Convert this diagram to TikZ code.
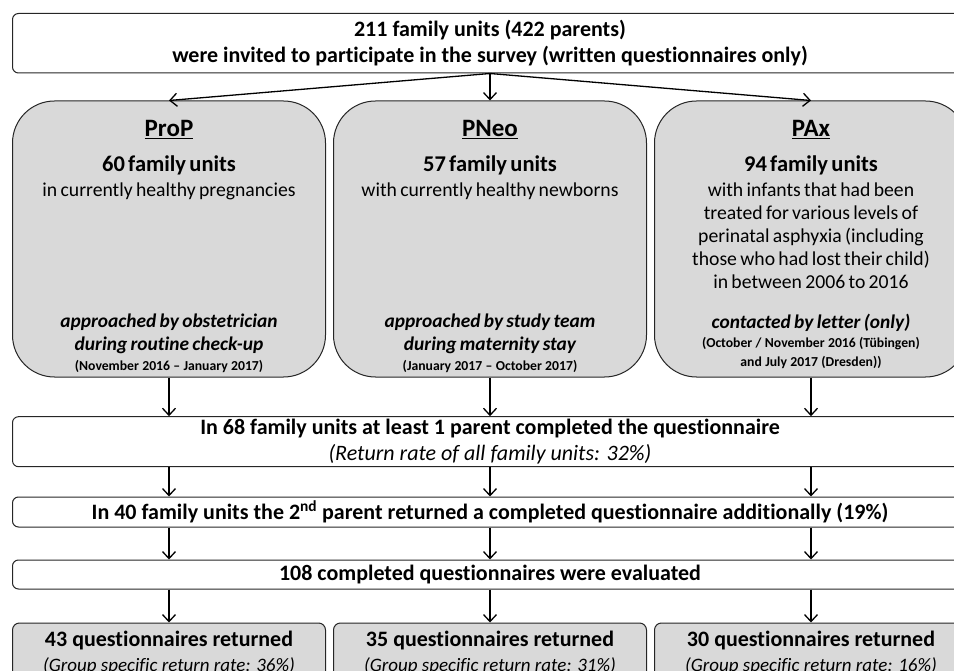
\documentclass[tikz,border=0pt]{standalone}
\usepackage{fontspec}
\setmainfont[Ligatures=NoCommon]{Carlito}
\usetikzlibrary{arrows.meta}
\usetikzlibrary{positioning}
\definecolor{boxgray}{RGB}{217,217,217}
\tikzstyle{wide} = [rectangle, rounded corners=6pt, minimum width=955pt, align=center, inner sep=0pt, draw=black!85, line width=1pt, font=\fontsize{22}{26}\selectfont]
\tikzstyle{group} = [rectangle, rounded corners=42pt, minimum width=313pt, minimum height=276pt, fill=boxgray, draw=black!85, line width=1pt]
\tikzstyle{grouptext} = [text width=305pt, align=center, inner sep=0pt]
\tikzstyle{result} = [rectangle, rounded corners=7pt, minimum width=313pt, minimum height=60pt, align=center, inner sep=0pt, fill=boxgray, draw=black!85, line width=1pt, font=\fontsize{19}{25}\selectfont]
\tikzstyle{flow} = [draw, line width=1.3pt, -{Straight Barb[length=7pt,width=13pt]}]

\begin{document}
\begin{tikzpicture}[x=1pt, y=-1pt]
\useasboundingbox (0,0) rectangle (954,671);
\clip (0,0) rectangle (954,671);

\node (invited) [wide, minimum height=59.5pt] at (490,43.25) {\bfseries 211 family units (422 parents)\\\bfseries were invited to participate in the survey (written questionnaires only)};

\node (prop) [group] at (169,239) {};
\node (pneo) [group] at (490,239) {};
\node (pax) [group] at (811,239) {};

\node (propHead) [grouptext, below=20pt of prop.north] {
  {\fontsize{25}{26}\selectfont\bfseries\underline{ProP}\par}
  {\fontsize{22.5}{35}\selectfont\bfseries 60 family units\par}
  {\fontsize{19.7}{25}\selectfont in currently healthy pregnancies\par}};
\node (propWay) [grouptext, above=5pt of prop.south] {
  {\fontsize{19.4}{23}\selectfont\bfseries\itshape approached by obstetrician\\during routine check-up\par}
  {\fontsize{13.7}{20}\selectfont\bfseries (November 2016 -- January 2017)\par}};

\node (pneoHead) [grouptext, below=20pt of pneo.north] {
  {\fontsize{25}{26}\selectfont\bfseries\underline{PNeo}\par}
  {\fontsize{22.5}{35}\selectfont\bfseries 57 family units\par}
  {\fontsize{19.7}{25}\selectfont with currently healthy newborns\par}};
\node (pneoWay) [grouptext, above=5pt of pneo.south] {
  {\fontsize{19.4}{23}\selectfont\bfseries\itshape approached by study team\\during maternity stay\par}
  {\fontsize{13.7}{20}\selectfont\bfseries (January 2017 -- October 2017)\par}};

\node (paxHead) [grouptext, below=20pt of pax.north] {
  {\fontsize{25}{26}\selectfont\bfseries\underline{PAx}\par}
  {\fontsize{22.5}{35}\selectfont\bfseries 94 family units\par}
  {\fontsize{19.7}{23}\selectfont\vspace{2pt}with infants that had been\\treated for various levels of\\perinatal asphyxia (including\\those who had lost their child)\\in between 2006 to 2016\par}};
\node (paxWay) [grouptext, above=9pt of pax.south] {
  {\fontsize{19.4}{23}\selectfont\bfseries\itshape contacted by letter (only)\par}
  {\fontsize{13.7}{19}\selectfont\bfseries (October / November 2016 (Tübingen)\\and July 2017 (Dresden))\par}};

\node (parent1) [wide, minimum height=50pt] at (490,441.7) {\bfseries In 68 family units at least 1 parent completed the questionnaire\\{\itshape (Return rate of all family units: 32\%)}};
\node (parent2) [wide, minimum height=30pt] at (490,512) {\bfseries In 40 family units the 2\textsuperscript{nd} parent returned a completed questionnaire additionally (19\%)};
\node (evaluated) [wide, minimum height=29pt] at (490,574.5) {\bfseries 108 completed questionnaires were evaluated};

\node (propRet) [result] at (169,653) {{\fontsize{22}{25}\selectfont\bfseries 43 questionnaires returned}\\{\itshape (Group specific return rate: 36\%)}};
\node (pneoRet) [result] at (490,653) {{\fontsize{22}{25}\selectfont\bfseries 35 questionnaires returned}\\{\itshape (Group specific return rate: 31\%)}};
\node (paxRet) [result] at (811,653) {{\fontsize{22}{25}\selectfont\bfseries 30 questionnaires returned}\\{\itshape (Group specific return rate: 16\%)}};

\draw [flow] (invited.south) -- (prop.north);
\draw [flow] (invited.south) -- (pneo.north);
\draw [flow] (invited.south) -- (pax.north);

\draw [flow] (prop.south) -- (prop.south |- parent1.north);
\draw [flow] (pneo.south) -- (pneo.south |- parent1.north);
\draw [flow] (pax.south) -- (pax.south |- parent1.north);

\draw [flow] (prop.south |- parent1.south) -- (prop.south |- parent2.north);
\draw [flow] (pneo.south |- parent1.south) -- (pneo.south |- parent2.north);
\draw [flow] (pax.south |- parent1.south) -- (pax.south |- parent2.north);

\draw [flow] (prop.south |- parent2.south) -- (prop.south |- evaluated.north);
\draw [flow] (pneo.south |- parent2.south) -- (pneo.south |- evaluated.north);
\draw [flow] (pax.south |- parent2.south) -- (pax.south |- evaluated.north);

\draw [flow] (prop.south |- evaluated.south) -- (propRet.north);
\draw [flow] (pneo.south |- evaluated.south) -- (pneoRet.north);
\draw [flow] (pax.south |- evaluated.south) -- (paxRet.north);
\end{tikzpicture}
\end{document}
